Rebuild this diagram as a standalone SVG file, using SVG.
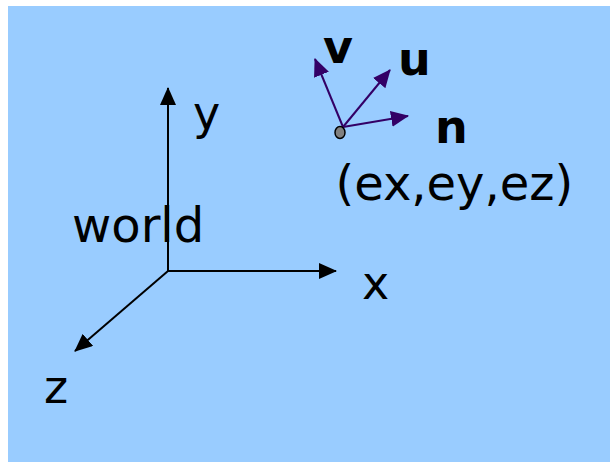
<svg xmlns="http://www.w3.org/2000/svg" width="610" height="463" viewBox="0 0 610 463">
<style>
text{font-family:"DejaVu Sans",Verdana,sans-serif;fill:#000}
.t{font-size:46px}
.w{font-size:48px}
.b{font-size:46px;font-weight:bold}
.ax{stroke:#000;stroke-width:2;fill:none}
.cam{stroke:#330066;stroke-width:2;fill:none}
</style>
<defs>
<marker id="ab" markerUnits="userSpaceOnUse" markerWidth="18" markerHeight="16" refX="17" refY="8" orient="auto"><path d="M0,0L18,8L0,16Z" fill="#000"/></marker>
<marker id="ap" markerUnits="userSpaceOnUse" markerWidth="18" markerHeight="16" refX="17" refY="8" orient="auto"><path d="M0,0L18,8L0,16Z" fill="#330066"/></marker>
</defs>
<rect x="8" y="6" width="602" height="456" fill="#99ccff"/>
<g id="connectors">
<line class="ax" x1="168" y1="271" x2="168" y2="88" marker-end="url(#ab)"/>
<line class="ax" x1="168" y1="271" x2="336" y2="271" marker-end="url(#ab)"/>
<line class="ax" x1="168" y1="271" x2="75" y2="351" marker-end="url(#ab)"/>
<line class="cam" x1="343" y1="127" x2="315" y2="59" marker-end="url(#ap)"/>
<line class="cam" x1="343" y1="127" x2="390" y2="70" marker-end="url(#ap)"/>
<line class="cam" x1="343" y1="127" x2="408" y2="116" marker-end="url(#ap)"/>
</g>
<g id="eye"><ellipse cx="340" cy="132.500" rx="5" ry="6" fill="#808080" stroke="#000" stroke-width="1.500"/></g>
<g id="labels">
<text class="t" x="193" y="129">y</text>
<text class="w" x="72" y="242">world</text>
<text class="t" x="362" y="299">x</text>
<text class="t" x="44" y="403">z</text>
<text class="b" x="323" y="63">v</text>
<text class="b" x="398" y="75">u</text>
<text class="b" x="435" y="143">n</text>
<text class="w" x="335.500" y="200">(ex,ey,ez)</text>
</g>
</svg>
